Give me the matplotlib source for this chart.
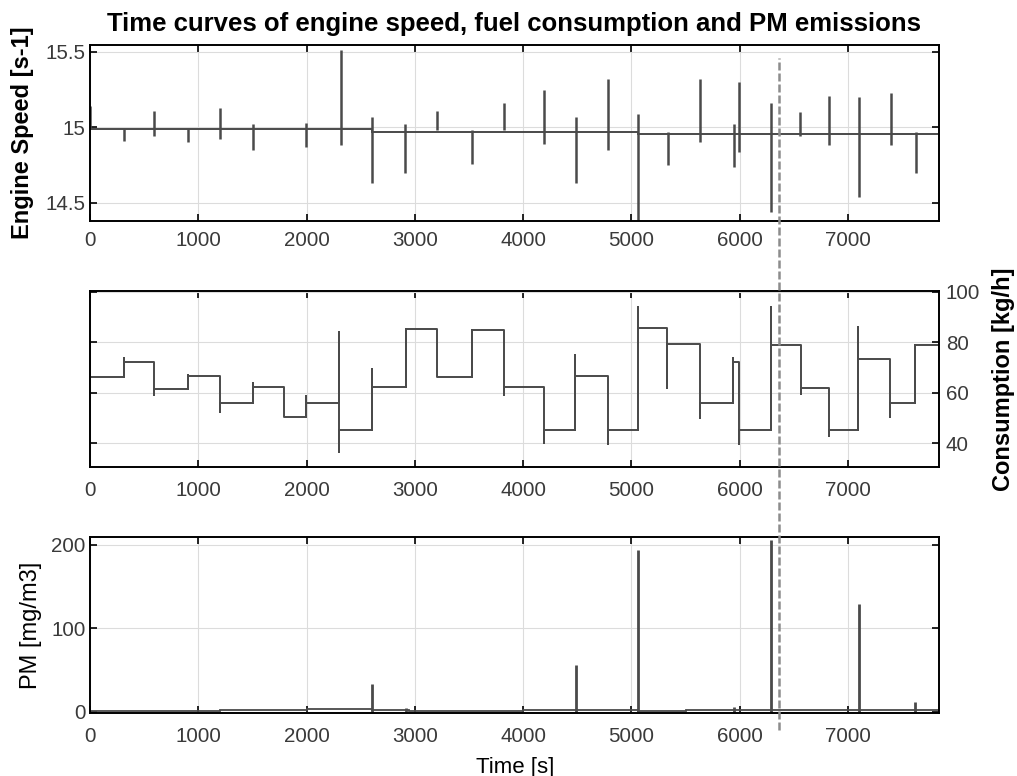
import numpy as np
import matplotlib
matplotlib.use("Agg")
import matplotlib.pyplot as plt
from matplotlib.lines import Line2D
from matplotlib.transforms import blended_transform_factory

plt.rcParams["font.family"] = ["Liberation Sans", "DejaVu Sans"]

# --- data ------------------------------------------------------------------
x_max = 7840
x_ticks = [0, 1000, 2000, 3000, 4000, 5000, 6000, 7000]

# engine speed: slowly drifting baseline plus spikes at every load change
speed_seg_t = [0, 2608, 5056, 7840]
speed_base = [14.992, 14.968, 14.958]
speed_t = [0, 315, 595, 904, 1201, 1503, 1994, 2315, 2608, 2907, 3204, 3528, 3824,
           4188, 4491, 4784, 5056, 5340, 5633, 5947, 5997, 6290, 6559, 6821, 7099, 7398, 7627]
speed_hi = [15.14, 14.99, 15.11, 14.99, 15.13, 15.02, 15.03, 15.51, 15.07, 15.02, 15.11, 14.98, 15.16,
            15.25, 15.07, 15.32, 15.09, 14.97, 15.32, 15.02, 15.30, 15.16, 15.10, 15.21, 15.20, 15.23, 14.97]
speed_lo = [14.99, 14.91, 14.94, 14.90, 14.92, 14.85, 14.87, 14.88, 14.63, 14.70, 14.98, 14.76, 14.98,
            14.89, 14.63, 14.85, 14.30, 14.75, 14.90, 14.74, 14.84, 14.44, 14.94, 14.88, 14.54, 14.88, 14.70]

# fuel consumption: step levels with over/undershoot at each change
fuel_t = [0, 315, 595, 904, 1201, 1503, 1790, 1994, 2300, 2608, 2917, 3204, 3528, 3827,
          4188, 4481, 4784, 5056, 5324, 5633, 5941, 5990, 6290, 6565, 6821, 7093, 7386, 7623]
fuel_level = [66.0, 72.3, 61.4, 66.4, 55.8, 62.4, 50.5, 55.8, 45.3, 62.4, 85.3, 66.1, 84.7, 62.3,
              45.3, 66.7, 45.3, 85.5, 79.2, 55.8, 72.0, 45.3, 78.9, 62.0, 45.3, 73.4, 55.8, 78.9]
fuel_hi = [79.6, 73.7, 72.3, 66.8, 66.4, 63.8, 62.4, 58.5, 84.2, 69.4, 85.3, 85.3, 84.7, 84.7,
           62.3, 75.0, 66.7, 94.1, 85.0, 79.2, 73.9, 72.0, 94.1, 78.9, 62.0, 85.9, 73.4, 78.9]
fuel_lo = [66.0, 66.0, 58.9, 61.4, 52.3, 55.8, 50.5, 50.5, 36.3, 45.3, 62.4, 66.1, 66.1, 58.9,
           40.2, 45.3, 39.6, 45.3, 62.0, 49.9, 55.8, 39.6, 45.3, 59.4, 42.6, 45.3, 50.5, 55.8]

# PM emissions: low baseline with peaks
pm_base_t = [0, 1200, 2000, 2608, 2950, 4000, 4488, 5056, 5500, 6290, 7099, 7840]
pm_base = [1.0, 2.0, 3.0, 1.5, 0.8, 2.0, 1.5, 1.0, 2.5, 1.5, 2.0]
pm_t = [2608, 2920, 4488, 5056, 5945, 6290, 7099, 7623]
pm_peak = [33, 5, 56, 194, 6, 205, 129, 12]

t_marker = 6364  # dashed vertical marker

line_col = "#4a4a4a"
grid_col = "#dcdcdc"
fs_tick = 14.8
fs_lab = 17


def style(ax, xpad):
    ax.set_xlim(0, x_max)
    ax.set_xticks(x_ticks)
    ax.grid(True, color=grid_col, linewidth=0.8)
    ax.set_axisbelow(True)
    ax.tick_params(direction="in", top=True, right=True, length=5, width=1.2,
                   labelsize=fs_tick, colors="black", labelcolor="#3a3a3a")
    ax.tick_params(axis="x", pad=xpad)
    for s in ax.spines.values():
        s.set_linewidth(1.4)


fig = plt.figure(figsize=(10.17, 7.76), dpi=100)
ax1 = fig.add_axes([0.0885, 0.7152, 0.8348, 0.2268])
ax2 = fig.add_axes([0.0885, 0.3982, 0.8348, 0.2268])
ax3 = fig.add_axes([0.0885, 0.0812, 0.8348, 0.2268])

# engine speed
ax1.stairs(speed_base, speed_seg_t, color=line_col, linewidth=1.4, baseline=None)
ax1.vlines(speed_t, speed_lo, speed_hi, color=line_col, linewidth=1.8)
ax1.set_ylim(14.38, 15.545)
ax1.set_yticks([14.5, 15, 15.5])
ax1.set_yticklabels(["14.5", "15", "15.5"])
ax1.set_ylabel("Engine Speed [s-1]", fontsize=fs_lab, fontweight="bold")
ax1.yaxis.set_label_coords(-0.066, 0.5)
style(ax1, 7)
ax1.tick_params(axis="y", pad=3)

# fuel consumption
fx, fy = [], []
for i, t in enumerate(fuel_t):
    fx += [t, t, t]
    fy += [fuel_hi[i], fuel_lo[i], fuel_level[i]]
    t_next = fuel_t[i + 1] if i + 1 < len(fuel_t) else x_max
    fx.append(t_next)
    fy.append(fuel_level[i])
ax2.plot(fx, fy, color=line_col, linewidth=1.4)
ax2.set_ylim(30.5, 100.3)
ax2.set_yticks([40, 60, 80, 100])
ax2.yaxis.tick_right()
ax2.yaxis.set_label_position("right")
ax2.set_ylabel("Consumption [kg/h]", fontsize=fs_lab, fontweight="bold")
ax2.yaxis.set_label_coords(1.062, 0.5)
style(ax2, 10)
ax2.tick_params(left=True, labelleft=False, labelright=True)
ax2.tick_params(axis="y", pad=5)

# PM
ax3.stairs(pm_base, pm_base_t, color=line_col, linewidth=1.3, baseline=None)
ax3.vlines(pm_t, 0, pm_peak, color=line_col, linewidth=2.0)
ax3.set_ylim(-1.5, 209)
ax3.set_yticks([0, 100, 200])
ax3.set_ylabel("PM [mg/m3]", fontsize=fs_lab)
ax3.yaxis.set_label_coords(-0.0565, 0.5)
ax3.set_xlabel("Time [s]", fontsize=16)
ax3.xaxis.set_label_coords(0.5006, -0.25)
style(ax3, 10)
ax3.tick_params(axis="y", pad=3)

fig.suptitle("Time curves of engine speed, fuel consumption and PM emissions",
             fontsize=18.5, fontweight="bold", y=0.985, x=0.505)

# dashed marker spanning all panels
trans = blended_transform_factory(ax1.transData, fig.transFigure)
fig.add_artist(Line2D([t_marker, t_marker], [0.059, 0.925], transform=trans,
                      color="#8c8c8c", linewidth=1.8, linestyle=(0, (3.2, 1.2))))

fig.savefig("out.png", dpi=100)
